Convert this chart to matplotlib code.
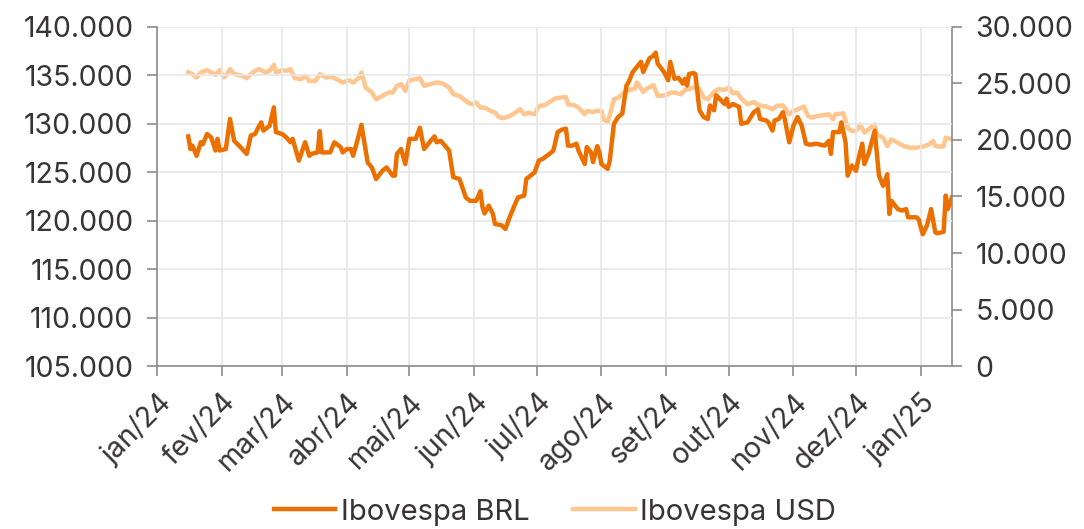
import pandas as pd
import matplotlib.pyplot as plt
from matplotlib.ticker import FuncFormatter

plt.rcParams['font.family'] = ['Inter', 'DejaVu Sans']

# Ibovespa em BRL (eixo esquerdo)
brl_dates = [
    '2024-01-16', '2024-01-17', '2024-01-18', '2024-01-20', '2024-01-22', '2024-01-23', '2024-01-25',
    '2024-01-27', '2024-01-29', '2024-01-30', '2024-01-31', '2024-02-03', '2024-02-05', '2024-02-07',
    '2024-02-10', '2024-02-13', '2024-02-15', '2024-02-17', '2024-02-19', '2024-02-20', '2024-02-21',
    '2024-02-24', '2024-02-26', '2024-02-27', '2024-03-01', '2024-03-03', '2024-03-05', '2024-03-06',
    '2024-03-09', '2024-03-12', '2024-03-14', '2024-03-15', '2024-03-18', '2024-03-19', '2024-03-20',
    '2024-03-24', '2024-03-26', '2024-03-29', '2024-03-30', '2024-04-01', '2024-04-03', '2024-04-04',
    '2024-04-06', '2024-04-08', '2024-04-11', '2024-04-13', '2024-04-15', '2024-04-18', '2024-04-20',
    '2024-04-23', '2024-04-24', '2024-04-25', '2024-04-27', '2024-04-29', '2024-05-01', '2024-05-04',
    '2024-05-06', '2024-05-08', '2024-05-11', '2024-05-13', '2024-05-14', '2024-05-16', '2024-05-18',
    '2024-05-20', '2024-05-22', '2024-05-25', '2024-05-28', '2024-05-30', '2024-06-02', '2024-06-04',
    '2024-06-05', '2024-06-06', '2024-06-08', '2024-06-10', '2024-06-11', '2024-06-14', '2024-06-16',
    '2024-06-18', '2024-06-20', '2024-06-22', '2024-06-25', '2024-06-26', '2024-06-28', '2024-06-30',
    '2024-07-02', '2024-07-04', '2024-07-08', '2024-07-09', '2024-07-11', '2024-07-13', '2024-07-15',
    '2024-07-16', '2024-07-18', '2024-07-20', '2024-07-21', '2024-07-24', '2024-07-25', '2024-07-27',
    '2024-07-28', '2024-07-30', '2024-07-31', '2024-08-01', '2024-08-04', '2024-08-05', '2024-08-07',
    '2024-08-09', '2024-08-11', '2024-08-13', '2024-08-14', '2024-08-16', '2024-08-20', '2024-08-21',
    '2024-08-24', '2024-08-26', '2024-08-27', '2024-08-28', '2024-08-31', '2024-09-02', '2024-09-03',
    '2024-09-05', '2024-09-07', '2024-09-09', '2024-09-10', '2024-09-11', '2024-09-12', '2024-09-14',
    '2024-09-15', '2024-09-17', '2024-09-19', '2024-09-21', '2024-09-22', '2024-09-24', '2024-09-25',
    '2024-09-29', '2024-09-30', '2024-10-01', '2024-10-03', '2024-10-06', '2024-10-07', '2024-10-10',
    '2024-10-13', '2024-10-15', '2024-10-16', '2024-10-19', '2024-10-20', '2024-10-22', '2024-10-23',
    '2024-10-25', '2024-10-27', '2024-10-28', '2024-10-30', '2024-11-01', '2024-11-03', '2024-11-05',
    '2024-11-07', '2024-11-09', '2024-11-12', '2024-11-16', '2024-11-18', '2024-11-19', '2024-11-20',
    '2024-11-23', '2024-11-24', '2024-11-26', '2024-11-27', '2024-11-29', '2024-12-01', '2024-12-02',
    '2024-12-04', '2024-12-05', '2024-12-07', '2024-12-10', '2024-12-12', '2024-12-14', '2024-12-16',
    '2024-12-17', '2024-12-18', '2024-12-21', '2024-12-23', '2024-12-25', '2024-12-26', '2024-12-30',
    '2024-12-31', '2025-01-02', '2025-01-04', '2025-01-06', '2025-01-08', '2025-01-09', '2025-01-12',
    '2025-01-13', '2025-01-14', '2025-01-16',
]
brl_values = [
    128700, 127400, 127750, 126700, 128100, 127900, 128950,
    128600, 127250, 128450, 127250, 127400, 130500, 128250,
    127600, 126900, 128800, 128950, 129800, 130150, 129300,
    129800, 131700, 129150, 128950, 128600, 128100, 128450,
    126200, 128100, 126700, 126900, 127050, 129250, 127050,
    127050, 128100, 127600, 127050, 127400, 127400, 126700,
    128250, 129900, 126000, 125500, 124300, 125150, 125500,
    124650, 124650, 126900, 127400, 125850, 128450, 128450,
    129600, 127400, 128200, 128700, 128100, 128250, 127750,
    127250, 124500, 124300, 122400, 122050, 122050, 123050,
    121400, 120750, 121550, 120700, 119650, 119550, 119150,
    120350, 121400, 122400, 122600, 124300, 124650, 125000,
    126200, 126400, 127050, 127250, 129150, 129400, 129500,
    127750, 127750, 127950, 127250, 125850, 127600, 127050,
    126050, 127700, 127050, 125850, 125350, 126200, 130000,
    130700, 131050, 133950, 134300, 135350, 136400, 135350,
    136750, 137050, 137350, 136200, 135350, 134500, 136400,
    134650, 134750, 134150, 134650, 133950, 135150, 135250,
    135150, 131400, 130700, 130500, 131900, 131400, 132950,
    132050, 132600, 131750, 132050, 131750, 130000, 130150,
    131200, 131500, 130500, 130350, 130150, 129300, 130350,
    130500, 131200, 130350, 128100, 129800, 130700, 129800,
    127950, 127850, 127950, 127750, 128250, 126900, 129150,
    129150, 130150, 128100, 124650, 125700, 125150, 126200,
    127950, 125850, 126900, 129300, 124650, 123600, 124800,
    120700, 122050, 121200, 121050, 121200, 120350, 120350,
    120150, 118600, 119500, 121200, 118800, 118700, 118850,
    122600, 121200, 122400,
]

# Ibovespa em USD (eixo direito)
usd_dates = [
    '2024-01-16', '2024-01-18', '2024-01-20', '2024-01-22', '2024-01-25', '2024-01-27', '2024-01-29',
    '2024-01-31', '2024-02-02', '2024-02-03', '2024-02-05', '2024-02-07', '2024-02-11', '2024-02-13',
    '2024-02-15', '2024-02-17', '2024-02-19', '2024-02-22', '2024-02-24', '2024-02-26', '2024-02-27',
    '2024-03-01', '2024-03-03', '2024-03-05', '2024-03-07', '2024-03-10', '2024-03-12', '2024-03-14',
    '2024-03-17', '2024-03-19', '2024-03-22', '2024-03-25', '2024-03-27', '2024-03-30', '2024-04-02',
    '2024-04-04', '2024-04-07', '2024-04-08', '2024-04-10', '2024-04-13', '2024-04-15', '2024-04-18',
    '2024-04-21', '2024-04-23', '2024-04-25', '2024-04-27', '2024-04-29', '2024-05-01', '2024-05-04',
    '2024-05-06', '2024-05-08', '2024-05-11', '2024-05-14', '2024-05-17', '2024-05-20', '2024-05-22',
    '2024-05-25', '2024-05-29', '2024-05-31', '2024-06-02', '2024-06-04', '2024-06-06', '2024-06-09',
    '2024-06-11', '2024-06-13', '2024-06-15', '2024-06-18', '2024-06-20', '2024-06-23', '2024-06-25',
    '2024-06-27', '2024-06-30', '2024-07-02', '2024-07-05', '2024-07-08', '2024-07-10', '2024-07-13',
    '2024-07-15', '2024-07-16', '2024-07-19', '2024-07-21', '2024-07-24', '2024-07-25', '2024-07-28',
    '2024-07-30', '2024-08-01', '2024-08-02', '2024-08-04', '2024-08-05', '2024-08-07', '2024-08-09',
    '2024-08-13', '2024-08-17', '2024-08-18', '2024-08-21', '2024-08-23', '2024-08-26', '2024-08-28',
    '2024-09-01', '2024-09-03', '2024-09-05', '2024-09-08', '2024-09-10', '2024-09-12', '2024-09-14',
    '2024-09-17', '2024-09-19', '2024-09-21', '2024-09-24', '2024-09-26', '2024-09-29', '2024-10-01',
    '2024-10-03', '2024-10-05', '2024-10-07', '2024-10-10', '2024-10-13', '2024-10-15', '2024-10-19',
    '2024-10-22', '2024-10-24', '2024-10-27', '2024-10-30', '2024-11-01', '2024-11-04', '2024-11-06',
    '2024-11-08', '2024-11-10', '2024-11-12', '2024-11-15', '2024-11-18', '2024-11-20', '2024-11-21',
    '2024-11-25', '2024-11-27', '2024-11-29', '2024-12-01', '2024-12-03', '2024-12-05', '2024-12-07',
    '2024-12-10', '2024-12-11', '2024-12-14', '2024-12-16', '2024-12-18', '2024-12-21', '2024-12-24',
    '2024-12-27', '2024-12-30', '2025-01-02', '2025-01-05', '2025-01-07', '2025-01-08', '2025-01-11',
    '2025-01-12', '2025-01-13', '2025-01-15',
]
usd_values = [
    25980, 25830, 25530, 25980, 26180, 25980, 25760,
    26180, 25530, 25680, 26270, 25830, 25680, 25470,
    25830, 26120, 26270, 25980, 26120, 26650, 25980,
    26180, 26120, 26270, 25470, 25380, 25680, 25230,
    25230, 25830, 25530, 25590, 25380, 25090, 25290,
    25090, 25530, 25980, 24640, 24200, 23600, 23900,
    24200, 24200, 24790, 24940, 24340, 25290, 25380,
    25470, 24790, 24940, 25090, 25000, 24640, 24050,
    23900, 23310, 23160, 23310, 22870, 22870, 22570,
    22420, 22030, 21920, 22120, 22340, 22720, 22270,
    22420, 22270, 23010, 23100, 23450, 23690, 23760,
    23810, 23150, 23070, 22870, 22270, 22570, 22480,
    22570, 22570, 21830, 21590, 22180, 23610, 23760,
    24340, 24560, 25090, 24260, 24560, 24850, 23900,
    23960, 24200, 24200, 24050, 24430, 24490, 24640,
    24490, 23760, 23600, 24260, 24490, 24430, 24640,
    24140, 24200, 23670, 23160, 23370, 23100, 22960,
    22720, 23010, 23070, 22270, 22570, 22780, 22960,
    22120, 21980, 22120, 22180, 22270, 21830, 22270,
    22360, 21090, 20790, 20790, 21380, 20650, 20940,
    21380, 20500, 20200, 19460, 20050, 19760, 19460,
    19320, 19320, 19410, 19610, 19910, 19460, 19410,
    19460, 20200, 20110,
]

month_labels = ['jan/24', 'fev/24', 'mar/24', 'abr/24', 'mai/24', 'jun/24', 'jul/24',
                'ago/24', 'set/24', 'out/24', 'nov/24', 'dez/24', 'jan/25']

brl_color = '#EC7000'
usd_color = '#FFC690'
text_color = '#3a3333'
spine_color = '#8c8c8c'
grid_color = '#e6e6e6'

brl = pd.Series(brl_values, index=pd.to_datetime(brl_dates))
usd = pd.Series(usd_values, index=pd.to_datetime(usd_dates))


def pt_thousands(v, pos):
    return f'{int(round(v)):,}'.replace(',', '.')


fig = plt.figure(figsize=(10.84, 5.29), dpi=100)
ax = fig.add_axes([0.1448, 0.3081, 0.7334, 0.6409])
ax2 = ax.twinx()

ax.plot(brl.index, brl.values, color=brl_color, lw=3.2, label='Ibovespa BRL', zorder=3)
ax2.plot(usd.index, usd.values, color=usd_color, lw=3.2, label='Ibovespa USD', zorder=2)
ax.set_zorder(ax2.get_zorder() + 1)
ax.patch.set_visible(False)

ax.set_ylim(105000, 140000)
ax.set_yticks(range(105000, 140001, 5000))
ax2.set_ylim(0, 30000)
ax2.set_yticks(range(0, 30001, 5000))
ax.yaxis.set_major_formatter(FuncFormatter(pt_thousands))
ax2.yaxis.set_major_formatter(FuncFormatter(pt_thousands))

month_ticks = pd.date_range('2024-01-01', '2025-01-01', freq='MS')
ax.set_xlim(pd.Timestamp('2024-01-01'), pd.Timestamp('2025-01-16'))
ax.set_xticks(month_ticks)
ax.set_xticklabels(month_labels, rotation=45, ha='right', rotation_mode='anchor')

ax.grid(True, color=grid_color, lw=1.2)
ax.set_axisbelow(True)
ax2.grid(False)

for a in (ax, ax2):
    for s in a.spines.values():
        s.set_color(spine_color)
        s.set_linewidth(1.2)
    a.spines['top'].set_visible(False)
    a.tick_params(colors=spine_color, labelcolor=text_color, labelsize=20.5, length=7, width=1.2)
ax.spines['right'].set_visible(False)
ax2.spines['left'].set_visible(False)
ax2.spines['bottom'].set_visible(False)
ax.tick_params(axis='y', pad=10)
ax2.tick_params(axis='y', pad=10)
ax.tick_params(axis='x', pad=9)

h1, l1 = ax.get_legend_handles_labels()
h2, l2 = ax2.get_legend_handles_labels()
fig.legend(h1 + h2, l1 + l2, loc='center', bbox_to_anchor=(0.512, 0.032), ncol=2, frameon=False,
           fontsize=21, labelcolor=text_color, handlelength=2.1, handletextpad=0.2, columnspacing=1.5)

fig.savefig('out.png', dpi=100)
